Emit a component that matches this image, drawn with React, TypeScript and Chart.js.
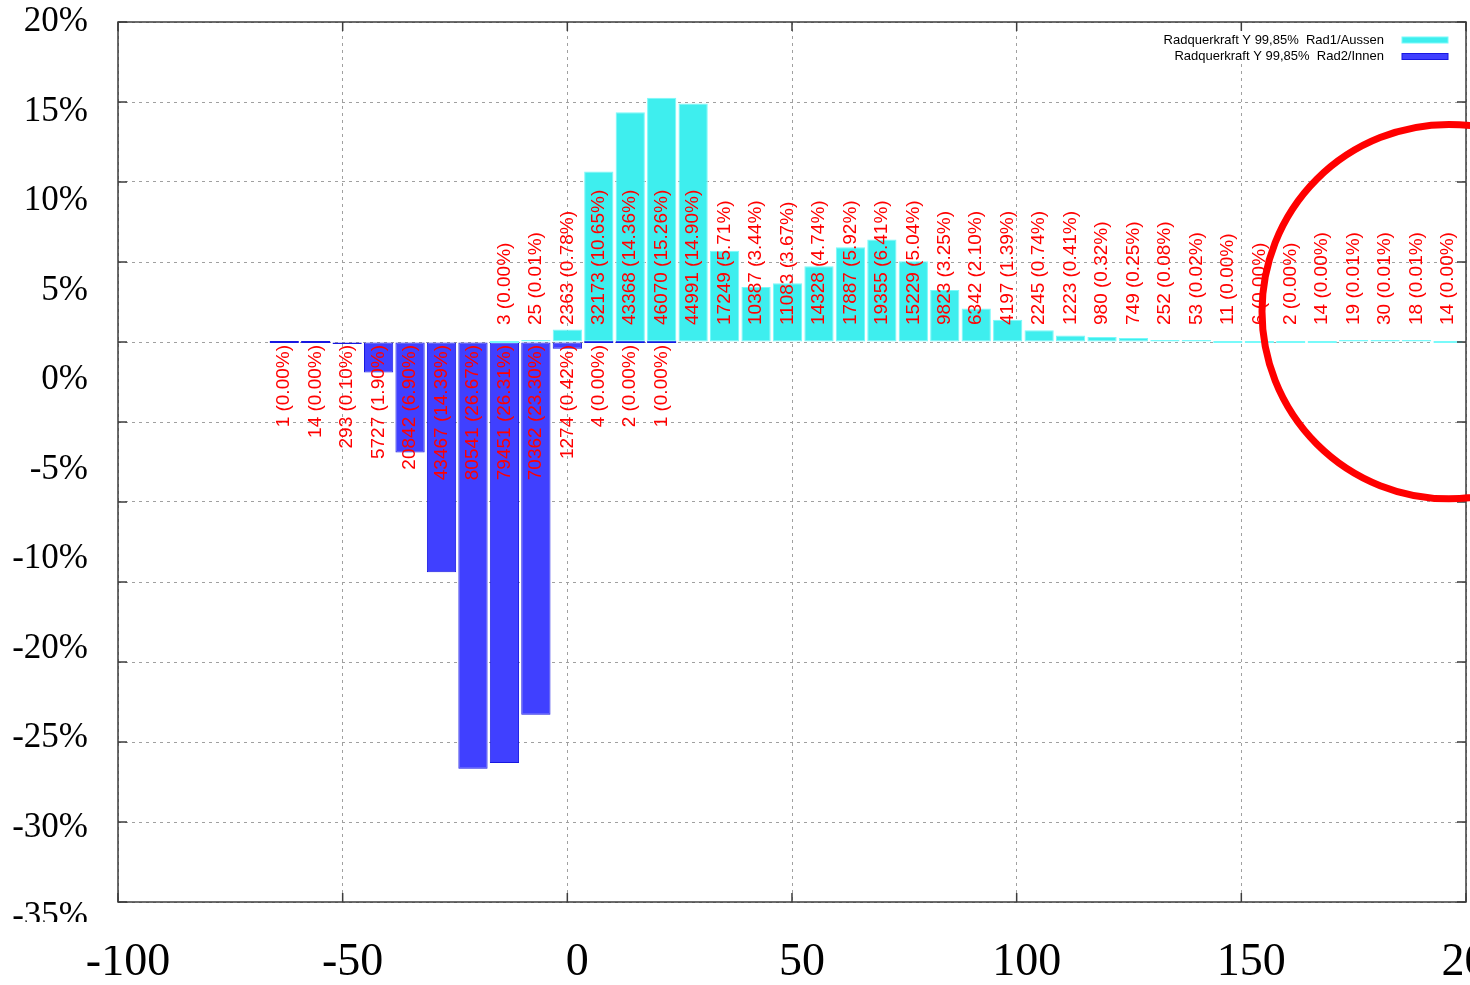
import React, { useEffect, useRef } from 'react';
import { Chart, registerables } from 'chart.js';

Chart.register(...registerables);

// ---- data ----
const seriesNames = ['Radquerkraft Y 99,85%  Rad1/Aussen', 'Radquerkraft Y 99,85%  Rad2/Innen'];

const outerBins = [-14, -7, 0, 7, 14, 21, 28, 35, 42, 49, 56, 63, 70, 77, 84, 91, 98, 105, 112, 119, 126, 133, 140, 147, 154, 161, 168, 175, 182, 189, 196];
const outerCounts = [3, 25, 2363, 32173, 43368, 46070, 44991, 17249, 10387, 11083, 14328, 17887, 19355, 15229, 9823, 6342, 4197, 2245, 1223, 980, 749, 252, 53, 11, 6, 2, 14, 19, 30, 18, 14];
const outerPct = [0.0, 0.01, 0.78, 10.65, 14.36, 15.26, 14.9, 5.71, 3.44, 3.67, 4.74, 5.92, 6.41, 5.04, 3.25, 2.1, 1.39, 0.74, 0.41, 0.32, 0.25, 0.08, 0.02, 0.0, 0.0, 0.0, 0.0, 0.01, 0.01, 0.01, 0.0];

const innerBins = [-63, -56, -49, -42, -35, -28, -21, -14, -7, 0, 7, 14, 21];
const innerCounts = [1, 14, 293, 5727, 20842, 43467, 80541, 79451, 70362, 1274, 4, 2, 1];
const innerPct = [0.0, 0.0, 0.1, 1.9, 6.9, 14.39, 26.67, 26.31, 23.3, 0.42, 0.0, 0.0, 0.0];

const yTickLabels = ['20%', '15%', '10%', '5%', '0%', '-5%', '-10%', '-20%', '-25%', '-30%', '-35%'];

// red highlight ellipse (annotation, in data units)
const highlight = { cx: 196.2, cy: 1.9, rx: 41.6, ry: 11.7 };

const SERIF = '"Liberation Serif", "Times New Roman", serif';
const SANS = '"Liberation Sans", Arial, Helvetica, sans-serif';

const CYAN_FILL = 'rgb(62,238,238)';
const CYAN_EDGE = 'rgb(120,250,250)';
const BLUE_FILL = 'rgb(64,64,255)';
const BLUE_EDGE = 'rgb(24,24,225)';

const labelSets = [
  { counts: outerCounts, pct: outerPct },
  { counts: innerCounts, pct: innerPct },
];

const zeroPad = (s: any) => {
  s.paddingLeft = 0;
  s.paddingRight = 0;
  s.paddingTop = 0;
  s.paddingBottom = 0;
};

const barLabelPlugin = {
  id: 'barLabels',
  afterDatasetsDraw(chart: any) {
    const ctx = chart.ctx;
    const y0 = chart.scales.y.getPixelForValue(0);
    ctx.save();
    ctx.font = `19px ${SANS}`;
    ctx.fillStyle = '#ff0000';
    ctx.textBaseline = 'middle';
    chart.data.datasets.forEach((_ds: any, di: number) => {
      const meta = chart.getDatasetMeta(di);
      const set = labelSets[di];
      meta.data.forEach((el: any, j: number) => {
        const text = `${set.counts[j]} (${set.pct[j].toFixed(2)}%)`;
        ctx.save();
        ctx.translate(el.x, di === 0 ? y0 - 17 : y0 + 3);
        ctx.rotate(-Math.PI / 2);
        ctx.textAlign = di === 0 ? 'left' : 'right';
        ctx.fillText(text, 0, 0);
        ctx.restore();
      });
    });
    ctx.restore();
  },
};

const decorPlugin = {
  id: 'decor',
  afterDraw(chart: any) {
    const { ctx, chartArea: a, scales } = chart;
    const sx = scales.x;
    const sy = scales.y;
    ctx.save();

    // frame
    ctx.strokeStyle = '#3c3c3c';
    ctx.lineWidth = 1.5;
    ctx.strokeRect(a.left, a.top, a.right - a.left, a.bottom - a.top);

    // inward tick marks on all four sides
    const tl = 9;
    ctx.beginPath();
    sx.ticks.forEach((t: any) => {
      const px = sx.getPixelForValue(t.value);
      ctx.moveTo(px, a.bottom);
      ctx.lineTo(px, a.bottom - tl);
      ctx.moveTo(px, a.top);
      ctx.lineTo(px, a.top + tl);
    });
    sy.ticks.forEach((t: any) => {
      const py = sy.getPixelForValue(t.value);
      ctx.moveTo(a.left, py);
      ctx.lineTo(a.left + tl, py);
      ctx.moveTo(a.right, py);
      ctx.lineTo(a.right - tl, py);
    });
    ctx.stroke();

    // legend (inside, top right, text then swatch)
    ctx.fillStyle = '#ffffff';
    ctx.fillRect(a.right - 316, a.top + 9, 308, 33);
    const fills = [CYAN_FILL, BLUE_FILL];
    const edges = [CYAN_EDGE, BLUE_EDGE];
    ctx.font = `13px ${SANS}`;
    ctx.textAlign = 'right';
    ctx.textBaseline = 'middle';
    chart.data.datasets.forEach((ds: any, i: number) => {
      const ly = a.top + 18 + i * 16.5;
      ctx.fillStyle = '#000000';
      ctx.fillText(ds.label, a.right - 82, ly);
      ctx.fillStyle = fills[i];
      ctx.fillRect(a.right - 64, ly - 3, 46, 6);
      ctx.strokeStyle = edges[i];
      ctx.lineWidth = 1;
      ctx.strokeRect(a.right - 64, ly - 3, 46, 6);
    });

    // red highlight ellipse
    const cx = sx.getPixelForValue(highlight.cx);
    const cy = sy.getPixelForValue(highlight.cy);
    const rx = sx.getPixelForValue(highlight.cx + highlight.rx) - cx;
    const ry = cy - sy.getPixelForValue(highlight.cy + highlight.ry);
    ctx.beginPath();
    ctx.ellipse(cx, cy, rx, ry, 0, 0, Math.PI * 2);
    ctx.strokeStyle = '#ff0000';
    ctx.lineWidth = 7;
    ctx.stroke();

    // the lowest y label is cut off in the reference
    ctx.fillStyle = '#ffffff';
    ctx.fillRect(0, a.bottom + 20, a.left - 1, 24);

    ctx.restore();
  },
};

export default function App() {
  const ref = useRef<HTMLCanvasElement>(null);

  useEffect(() => {
    document.body.style.margin = '0';
    const canvas = ref.current;
    if (!canvas) return;

    const chart = new Chart(canvas, {
      type: 'bar',
      data: {
        datasets: [
          {
            label: seriesNames[0],
            data: outerBins.map((x, i) => ({ x, y: outerPct[i] })),
            backgroundColor: CYAN_FILL,
            borderColor: CYAN_EDGE,
            borderWidth: 1,
            borderSkipped: false,
            minBarLength: 2,
            grouped: false,
            barPercentage: 0.93,
            categoryPercentage: 1,
            xAxisID: 'x',
            yAxisID: 'y',
          } as any,
          {
            label: seriesNames[1],
            data: innerBins.map((x, i) => ({ x, y: -innerPct[i] })),
            backgroundColor: BLUE_FILL,
            borderColor: BLUE_EDGE,
            borderWidth: 1,
            borderSkipped: false,
            minBarLength: 2,
            grouped: false,
            barPercentage: 0.93,
            categoryPercentage: 1,
            xAxisID: 'x',
            yAxisID: 'y',
          } as any,
        ],
      },
      options: {
        responsive: false,
        animation: false,
        devicePixelRatio: 1,
        layout: { padding: { top: 22, right: 4, left: 0, bottom: 0 } },
        plugins: {
          legend: { display: false },
          tooltip: { enabled: false },
          title: { display: false },
        },
        scales: {
          x: {
            type: 'linear',
            min: -100,
            max: 200,
            offset: false,
            ticks: {
              stepSize: 50,
              padding: 33,
              labelOffset: 10,
              maxRotation: 0,
              autoSkip: false,
              color: '#000000',
              font: { family: SERIF, size: 46 },
            },
            grid: { offset: false, color: '#a0a0a0', lineWidth: 1, drawTicks: false },
            border: { display: false, dash: [3, 4] },
            afterFit: (s: any) => {
              s.height = 83;
              zeroPad(s);
            },
          },
          y: {
            type: 'linear',
            position: 'left',
            min: -35,
            max: 20,
            ticks: { display: false, stepSize: 5 },
            grid: { color: '#a0a0a0', lineWidth: 1, drawTicks: false },
            border: { display: false, dash: [3, 4] },
            afterFit: (s: any) => {
              s.width = 0;
              zeroPad(s);
            },
          },
          yl: {
            type: 'linear',
            position: 'left',
            reverse: true,
            min: 0,
            max: 9.83,
            grid: { display: false, drawTicks: false },
            border: { display: false },
            afterBuildTicks: (s: any) => {
              s.ticks = yTickLabels.map((_l, i) => ({ value: i }));
            },
            ticks: {
              autoSkip: false,
              padding: 30,
              color: '#000000',
              font: { family: SERIF, size: 35 },
              callback: (_v: any, i: number) => yTickLabels[i],
            },
            afterFit: (s: any) => {
              s.width = 118;
              zeroPad(s);
            },
          },
        } as any,
      },
      plugins: [barLabelPlugin, decorPlugin],
    });

    return () => chart.destroy();
  }, []);

  return (
    <div style={{ position: 'fixed', left: 0, top: 0, width: 1470, height: 985, background: '#ffffff' }}>
      <canvas ref={ref} width={1470} height={985} style={{ display: 'block' }} />
    </div>
  );
}
